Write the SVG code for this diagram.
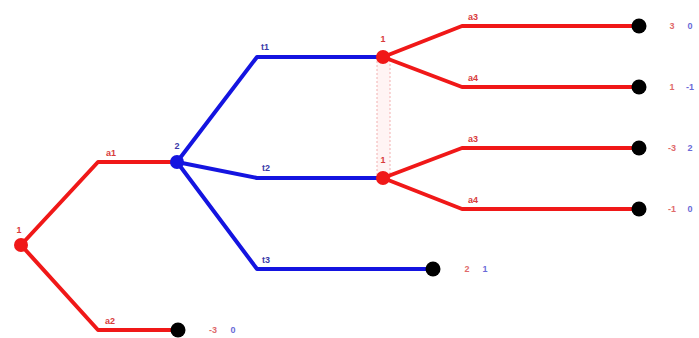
<svg xmlns="http://www.w3.org/2000/svg" width="699" height="338" viewBox="0 0 699 338">
<style>
.r{fill:none;stroke:#f01818;stroke-width:4;stroke-linejoin:round}
.b{fill:none;stroke:#1414e0;stroke-width:4;stroke-linejoin:round}
text{font-family:"Liberation Sans",Arial,sans-serif;font-size:9px;font-weight:bold;text-anchor:middle}
.lr{fill:#d83a3a}
.lb{fill:#3a3aa8}
.pr{fill:#e06a6a}
.pb{fill:#6a6ad8}
.dec{stroke:none}
.term{fill:#000}
</style>
<rect width="699" height="338" fill="#fff"/>
<g id="infoset">
<rect x="377" y="57" width="13" height="122" fill="#fff4f4" stroke="#f2b0b0" stroke-width="1" stroke-dasharray="2,2"/>
</g>
<g id="connectors">
<polyline class="r" points="21,245 98,162 177,162"/>
<polyline class="r" points="21,245 98,330 178,330"/>
<polyline class="b" points="177,162 257,57 383,57"/>
<polyline class="b" points="177,162 257,178 383,178"/>
<polyline class="b" points="177,162 257,269 433,269"/>
<polyline class="r" points="383,57 462,26 639,26"/>
<polyline class="r" points="383,57 462,87 639,87"/>
<polyline class="r" points="383,178 462,148 639,148"/>
<polyline class="r" points="383,178 462,209 639,209"/>
<text class="lr" x="111" y="156">a1</text>
<text class="lr" x="110" y="324">a2</text>
<text class="lb" x="265" y="50">t1</text>
<text class="lb" x="266" y="171">t2</text>
<text class="lb" x="266" y="263">t3</text>
<text class="lr" x="473" y="20">a3</text>
<text class="lr" x="473" y="81">a4</text>
<text class="lr" x="473" y="142">a3</text>
<text class="lr" x="473" y="203">a4</text>
</g>
<g id="n_root">
<circle cx="21" cy="245" r="7" fill="#f01818"/>
<text class="lr" x="19" y="233">1</text>
</g>
<g id="n_p2">
<circle cx="177" cy="162" r="7" fill="#1414e0"/>
<text class="lb" x="177" y="149">2</text>
</g>
<g id="n_p1a">
<circle cx="383" cy="57" r="7" fill="#f01818"/>
<text class="lr" x="383" y="42">1</text>
</g>
<g id="n_p1b">
<circle cx="383" cy="178" r="7" fill="#f01818"/>
<text class="lr" x="383" y="163">1</text>
</g>
<g id="t_a2">
<circle class="term" cx="178" cy="330" r="7.5"/>
<text class="pr" x="213" y="333">-3</text>
<text class="pb" x="233" y="333">0</text>
</g>
<g id="t_t3">
<circle class="term" cx="433" cy="269" r="7.5"/>
<text class="pr" x="467" y="272">2</text>
<text class="pb" x="485" y="272">1</text>
</g>
<g id="t_1">
<circle class="term" cx="639" cy="26" r="7.5"/>
<text class="pr" x="672" y="29">3</text>
<text class="pb" x="690" y="29">0</text>
</g>
<g id="t_2">
<circle class="term" cx="639" cy="87" r="7.5"/>
<text class="pr" x="672" y="90">1</text>
<text class="pb" x="690" y="90">-1</text>
</g>
<g id="t_3">
<circle class="term" cx="639" cy="148" r="7.5"/>
<text class="pr" x="672" y="151">-3</text>
<text class="pb" x="690" y="151">2</text>
</g>
<g id="t_4">
<circle class="term" cx="639" cy="209" r="7.5"/>
<text class="pr" x="672" y="212">-1</text>
<text class="pb" x="690" y="212">0</text>
</g>
</svg>
